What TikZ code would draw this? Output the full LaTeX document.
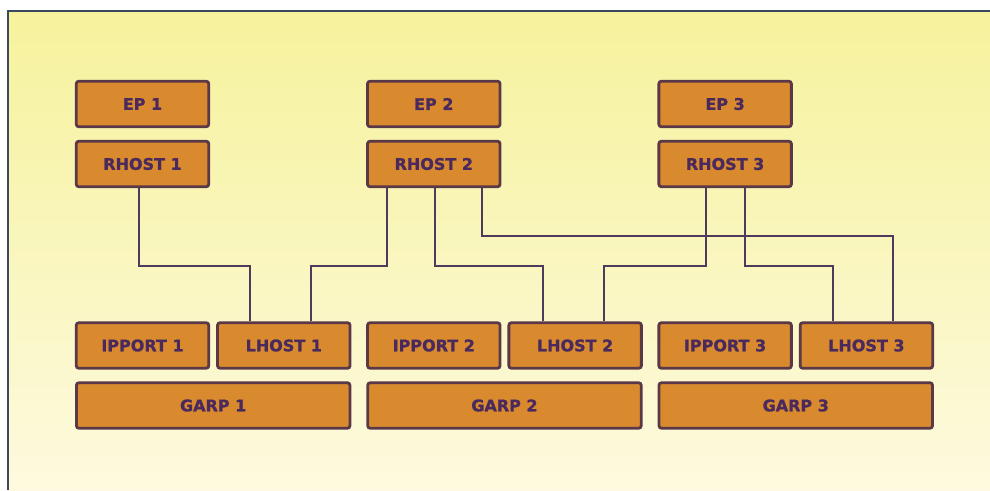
\documentclass[tikz,border=0pt]{standalone}
\usepackage{fontspec}
\newfontfamily\boxfont[BoldFeatures={FakeBold=1.2}]{DejaVu Sans}
\usepackage{tikz}
\usetikzlibrary{calc}

\definecolor{boxorange}{HTML}{D98A2E}
\definecolor{boxedge}{HTML}{5A3848}
\definecolor{boxtext}{HTML}{4A2A5C}
\definecolor{linkcol}{HTML}{4E3A5C}
\definecolor{bgtop}{HTML}{F6F29C}
\definecolor{bgbottom}{HTML}{FDFADF}
\definecolor{framecol}{HTML}{3C4760}

\begin{document}
\begin{tikzpicture}[x=1pt,y=1pt,
	unitbox/.style={draw=boxedge,line width=2.8pt,fill=boxorange,rounded corners=2.5pt,
		minimum width=\minBoxWidth pt,minimum height=\minBoxHeight pt,inner sep=0pt,
		text=boxtext,font=\boxfont\bfseries\fontsize{16}{18}\selectfont},
	widebox/.style={unitbox,minimum width=\wideBoxWidth pt},
	link/.style={draw=linkcol,line width=2.2pt}]
	
	\pgfmathsetmacro\minBoxWidth{132.5}
	\pgfmathsetmacro\minBoxHeight{45.5}
	\pgfmathsetmacro\wideBoxWidth{273.5}
	
	% column x coords
	\pgfmathsetmacro\xA{142.5}
	\pgfmathsetmacro\xB{(\xA + 291.3)}
	\pgfmathsetmacro\xC{(\xA + 2*291.3)}
	\pgfmathsetmacro\lhostOffset{141.3}
	
	% frame and background
	\useasboundingbox (0,0) rectangle (990,490);
	\shade[top color=bgtop,bottom color=bgbottom] (8,0) rectangle (990,479);
	\draw[framecol,line width=1.5pt] (8,0) -- (8,479) -- (990,479);
	
	% upper row
	\node (ep1) at (\xA, 386) [unitbox] {EP 1};
	\node (ep2) at (\xB, 386) [unitbox] {EP 2};
	\node (ep3) at (\xC, 386) [unitbox] {EP 3};
	
	\node (rhost1) at (\xA, 326) [unitbox] {RHOST 1};
	\node (rhost2) at (\xB, 326) [unitbox] {RHOST 2};
	\node (rhost3) at (\xC, 326) [unitbox] {RHOST 3};
	
	% lower row
	\node (ipport1) at (\xA, 144.5) [unitbox] {IPPORT 1};
	\node (ipport2) at (\xB, 144.5) [unitbox] {IPPORT 2};
	\node (ipport3) at (\xC, 144.5) [unitbox] {IPPORT 3};
	
	\node (lhost1) at (\xA + \lhostOffset, 144.5) [unitbox] {LHOST 1};
	\node (lhost2) at (\xB + \lhostOffset, 144.5) [unitbox] {LHOST 2};
	\node (lhost3) at (\xC + \lhostOffset, 144.5) [unitbox] {LHOST 3};
	
	\node (garp1) at (\xA + \lhostOffset/2, 84.5) [widebox] {GARP 1};
	\node (garp2) at (\xB + \lhostOffset/2, 84.5) [widebox] {GARP 2};
	\node (garp3) at (\xC + \lhostOffset/2, 84.5) [widebox] {GARP 3};
	
	% rhost -> lhost links
	\draw[link] ([xshift=-3.5pt]rhost1.south) -- ++(0,-78) -| ([xshift=-33.5pt]lhost1.north);
	\draw[link] ([xshift=-47pt]rhost2.south) -- ++(0,-78) -| ([xshift=27.5pt]lhost1.north);
	\draw[link] ([xshift=1pt]rhost2.south) -- ++(0,-78) -| ([xshift=-32.5pt]lhost2.north);
	\draw[link] ([xshift=48pt]rhost2.south) -- ++(0,-48) -| ([xshift=26.5pt]lhost3.north);
	\draw[link] ([xshift=-19pt]rhost3.south) -- ++(0,-78) -| ([xshift=28.5pt]lhost2.north);
	\draw[link] ([xshift=20pt]rhost3.south) -- ++(0,-78) -| ([xshift=-33.5pt]lhost3.north);
	
\end{tikzpicture}
\end{document}
